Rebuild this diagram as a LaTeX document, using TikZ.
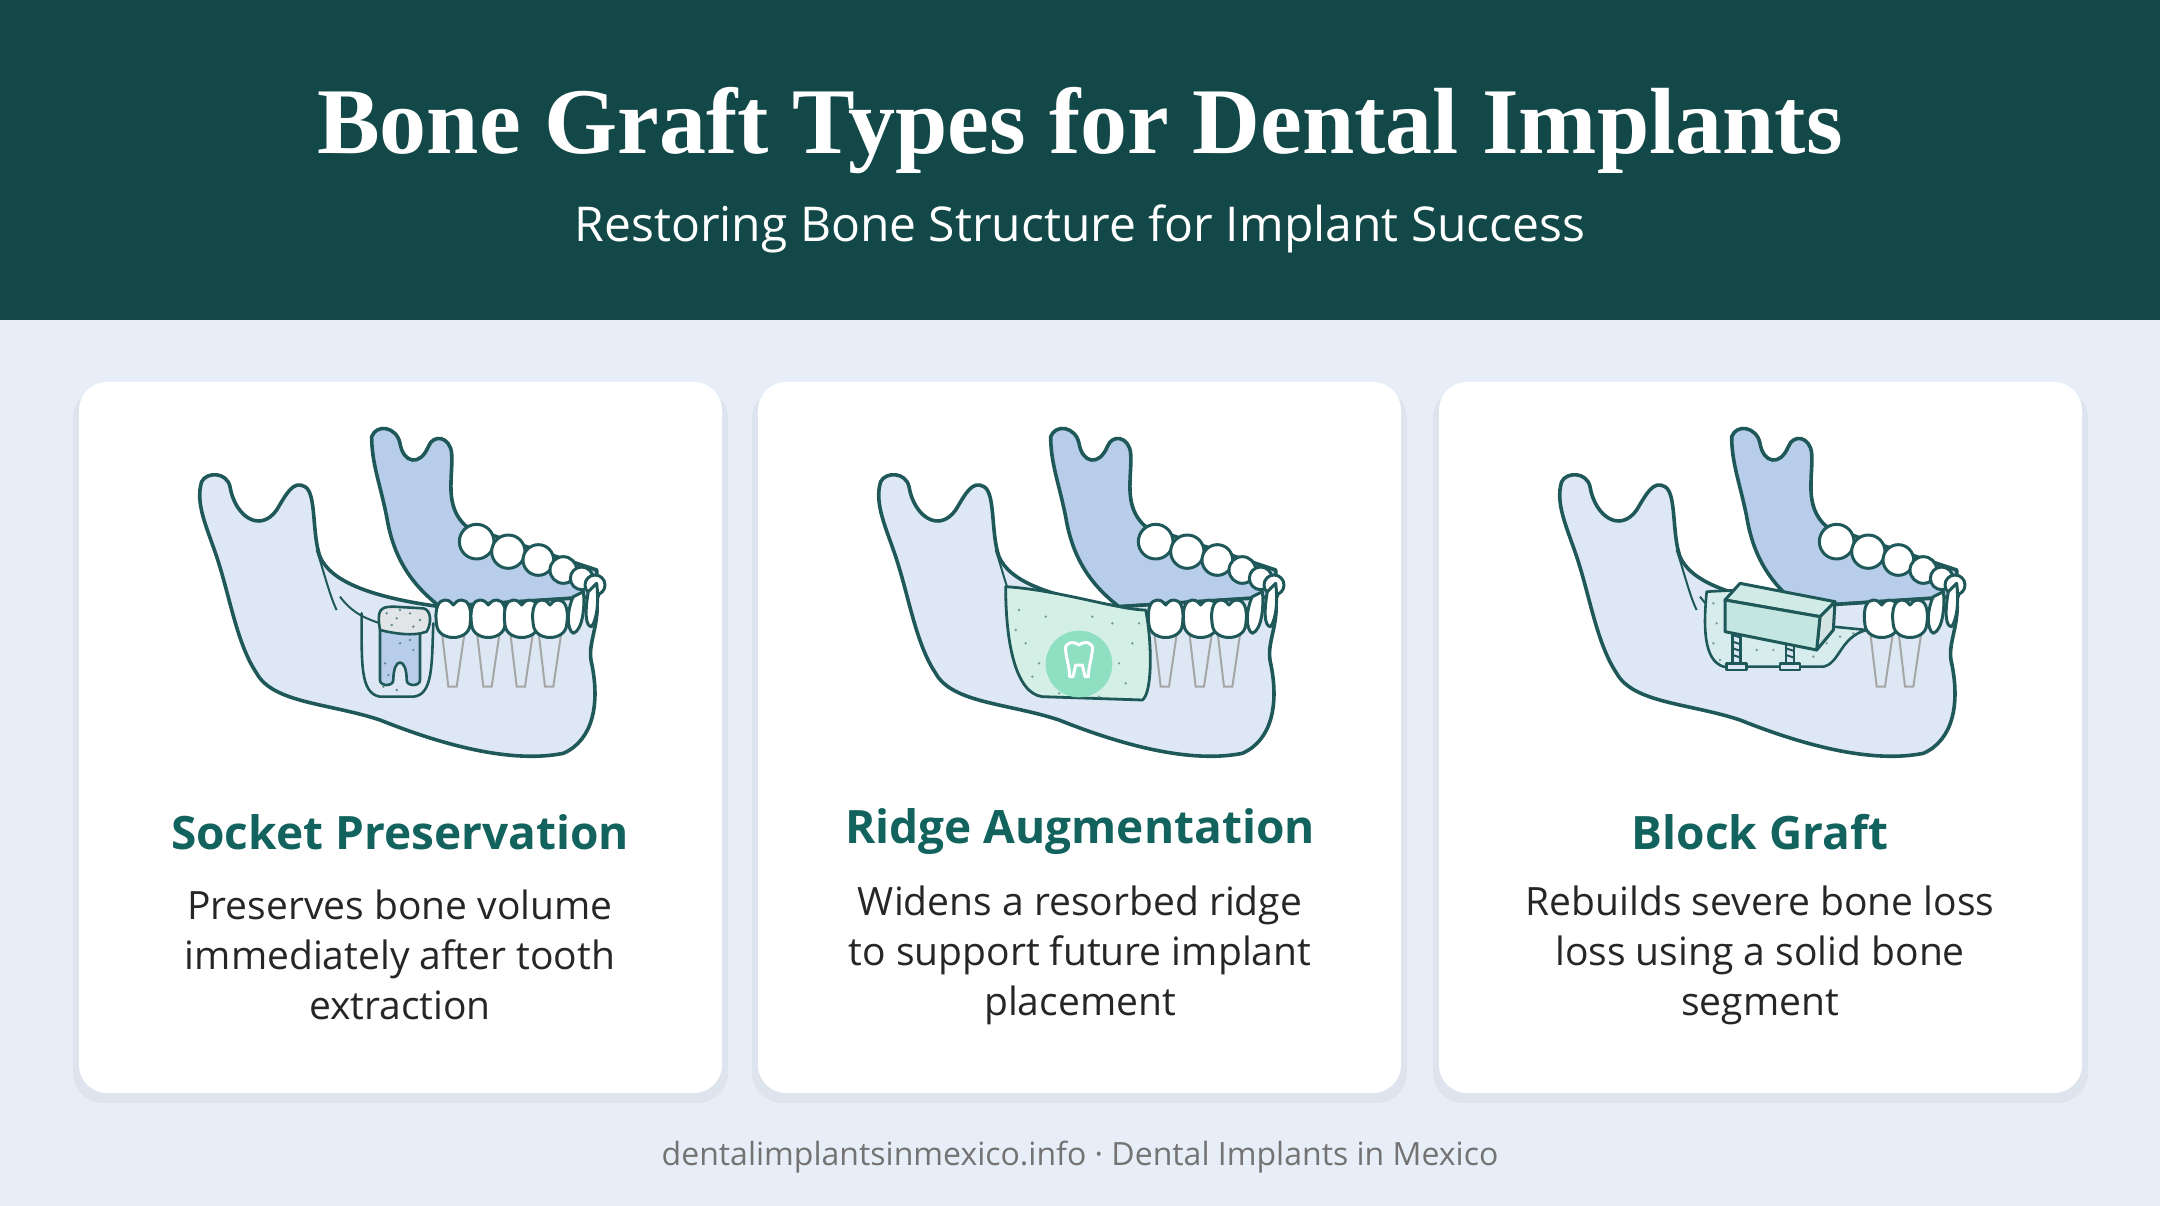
\documentclass[tikz,border=0pt]{standalone}
\usepackage{fontspec}
\setmainfont{Liberation Serif}
\setsansfont{Open Sans}
\begin{document}
\definecolor{hdr}{HTML}{134848}
\definecolor{bg}{HTML}{E8EEF7}
\definecolor{ink}{HTML}{1F5858}
\definecolor{jawf}{HTML}{DCE7F5}
\definecolor{backf}{HTML}{B7CDE9}
\definecolor{ttl}{HTML}{12625E}
\definecolor{grf}{HTML}{D3EFE6}
\definecolor{grc}{HTML}{8FE0C2}
\definecolor{blk}{HTML}{C4E6E0}
\begin{tikzpicture}[x=1pt,y=-1pt,
  card/.style={fill=white,rounded corners=28pt,draw=none},
  ol/.style={draw=ink,line width=3.6pt,line join=round,line cap=round},
  thin/.style={draw=ink,line width=2pt},
  tooth/.style={ol,fill=white,line width=3pt},
  cardtitle/.style={font=\sffamily\bfseries\fontsize{46}{52}\selectfont,text=ttl},
  body/.style={font=\sffamily\fontsize{39}{50}\selectfont,text=black!85,align=center}]
\useasboundingbox (0,0) rectangle (2160,1206);
\fill[bg] (0,0) rectangle (2160,1206);
\fill[hdr] (0,0) rectangle (2160,320);
\node[font=\bfseries\fontsize{94}{100}\selectfont,text=white] (title) at (1080,131) {Bone Graft Types for Dental Implants};
\node[font=\sffamily\fontsize{48}{52}\selectfont,text=white] (sub) at (1080,229) {Restoring Bone Structure for Implant Success};
\node[font=\sffamily\fontsize{32}{36}\selectfont,text=black!55] (foot) at (1080,1157) {dentalimplantsinmexico.info · Dental Implants in Mexico};

\newcommand{\jawback}{%
  \path[ol,fill=backf] (575,80) .. controls (590,40) and (650,50) .. (660,100) .. controls (670,160) and (720,170) .. (745,110)
     .. controls (760,70) and (810,80) .. (815,130) .. controls (820,200) and (790,290) .. (860,350)
     -- (1250,480) -- (1255,560) -- (780,590) .. controls (690,520) and (640,440) .. (620,320) .. controls (600,220) and (575,160) .. (575,80) -- cycle;
  \foreach \x/\y/\r in {890/395/52,985/425/50,1075/450/46,1150/480/40,1205/505/34,1245/525/30}
    \path[tooth] (\x,\y) circle[radius=\r];}
\newcommand{\jawfront}{%
  \path[ol,fill=jawf,fill opacity=0.93] (65,215) .. controls (80,185) and (140,185) .. (150,230) .. controls (165,320) and (240,370) .. (290,300)
     .. controls (320,250) and (340,210) .. (375,230) .. controls (410,250) and (395,370) .. (420,440)
     .. controls (450,510) and (560,560) .. (780,590) -- (1250,560) .. controls (1260,650) and (1220,700) .. (1235,760)
     .. controls (1260,880) and (1240,990) .. (1150,1030) .. controls (1000,1060) and (800,1010) .. (600,930)
     .. controls (450,880) and (280,880) .. (230,790) .. controls (170,700) and (150,560) .. (110,440)
     .. controls (80,350) and (45,280) .. (65,215) -- cycle;
  \draw[thin] (410,420) .. controls (430,480) and (450,560) .. (470,600);
  \draw[thin] (480,560) .. controls (510,600) and (540,620) .. (600,640);}
\newcommand{\frontteeth}[1]{%
  \foreach \x in {#1}{
    \draw[draw=gray!70,line width=2pt] (\x-35,660) -- (\x-15,830) -- (\x+10,830) -- (\x+35,660);
    \path[tooth] (\x-50,645) .. controls (\x-58,590) and (\x-42,570) .. (\x-25,570) .. controls (\x-10,570) and (\x-5,580) .. (\x,585)
      .. controls (\x+5,580) and (\x+10,570) .. (\x+25,570) .. controls (\x+42,570) and (\x+58,590) .. (\x+50,645)
      .. controls (\x+45,695) and (\x-45,695) .. (\x-50,645) -- cycle;}}

% cards
\foreach \cx/\nm in {79/c1,758/c2,1439/c3}{
  \fill[black,opacity=0.04,rounded corners=30pt] (\cx-6,388) rectangle (\cx+649,1103);
  \path[card] (\cx,382) rectangle (\cx+643,1093);
}

% ---- card 1
\begin{scope}[shift={(180,410)},scale=1/3]
\jawback \jawfront
\frontteeth{820,925,1025,1110}
\path[tooth] (1180,560) .. controls (1160,600) and (1160,660) .. (1180,670) .. controls (1210,660) and (1215,580) .. (1210,545) -- cycle;
\path[tooth] (1225,545) .. controls (1215,600) and (1215,650) .. (1235,650) .. controls (1255,620) and (1255,560) .. (1250,520) -- cycle;
\path[ol,line width=2.6pt] (545,610) .. controls (545,760) and (540,850) .. (600,860) -- (700,860) .. controls (760,855) and (755,760) .. (760,640);
\path[ol,fill=backf,line width=2.6pt] (600,660) -- (600,810) .. controls (600,830) and (640,830) .. (640,810) .. controls (640,740) and (680,740) .. (680,810) .. controls (680,830) and (720,830) .. (720,810) -- (720,660) -- cycle;
\path[ol,fill=jawf!60!gray!40,line width=2.6pt] (600,660) .. controls (590,600) and (600,590) .. (640,590) -- (730,595) .. controls (755,600) and (755,640) .. (740,665) .. controls (700,680) and (640,670) .. (600,660) -- cycle;
\foreach \p in {(620,610),(650,625),(690,610),(720,630),(635,645),(700,650),(660,600),(615,760),(625,795),(660,700),(700,720),(610,830),(650,840),(690,690)}
  \fill[ink!70] \p circle[radius=4];
\end{scope}
\node[cardtitle] (t1) at (400,832) {Socket Preservation};
\node[body] (b1) at (400,955) {Preserves bone volume\\immediately after tooth\\extraction};

% ---- card 2
\begin{scope}[shift={(859,410)},scale=1/3]
\jawback \jawfront
\frontteeth{920,1025,1110}
\path[tooth] (1180,560) .. controls (1160,600) and (1160,660) .. (1180,670) .. controls (1210,660) and (1215,580) .. (1210,545) -- cycle;
\path[tooth] (1225,545) .. controls (1215,600) and (1215,650) .. (1235,650) .. controls (1255,620) and (1255,560) .. (1250,520) -- cycle;
\path[ol,fill=grf,line width=2.8pt] (440,530) .. controls (600,540) and (780,600) .. (860,600) .. controls (880,700) and (880,850) .. (850,870) -- (550,860) .. controls (470,850) and (440,700) .. (440,530) -- cycle;
\fill[grc] (660,762) circle[radius=100];
\path[draw=white,line width=3pt,line join=round] (620,720) .. controls (615,700) and (640,690) .. (660,705) .. controls (680,690) and (705,700) .. (700,720) .. controls (698,750) and (690,760) .. (688,800) -- (678,800) -- (670,765) -- (650,765) -- (642,800) -- (632,800) .. controls (630,760) and (622,750) .. (620,720) -- cycle;
\foreach \p in {(480,600),(500,700),(520,800),(560,620),(600,850),(720,860),(800,820),(820,700),(760,640),(540,760),(780,760),(840,640),(470,660),(700,620)}
  \fill[ink!60] \p circle[radius=4];
\end{scope}
\node[cardtitle] (t2) at (1080,832) {Ridge Augmentation};
\node[body] (b2) at (1080,955) {Widens a resorbed ridge\\to support future implant\\placement};

% ---- card 3
\begin{scope}[shift={(1540,410)},scale=1/3]
\jawback \jawfront
\frontteeth{1025,1110}
\path[tooth] (1180,560) .. controls (1160,600) and (1160,660) .. (1180,670) .. controls (1210,660) and (1215,580) .. (1210,545) -- cycle;
\path[tooth] (1225,545) .. controls (1215,600) and (1215,650) .. (1235,650) .. controls (1255,620) and (1255,560) .. (1250,520) -- cycle;
\path[ol,fill=grf!60!jawf,line width=2.6pt] (500,545) .. controls (490,650) and (490,750) .. (550,770) -- (850,770) .. controls (900,760) and (900,680) .. (980,660) -- (880,650) -- (880,590) -- (600,540) -- cycle;
\foreach \p in {(520,580),(530,640),(520,700),(600,720),(650,720),(700,720),(760,740),(820,740),(860,700),(900,680),(940,670),(540,750)}
  \fill[ink!60] \p circle[radius=4];
\foreach \sx in {590,750}{
  \path[ol,fill=jawf,line width=2.6pt] (\sx-12,660) rectangle (\sx+12,760);
  \foreach \k in {675,695,715,735} \draw[ink,line width=2pt] (\sx-12,\k) -- (\sx+12,\k+8);
  \path[ol,fill=jawf,line width=2.6pt] (\sx-30,760) rectangle (\sx+30,780);}
\path[ol,fill=blk!80!white,line width=3pt] (555,570) -- (600,520) -- (885,575) -- (840,620) -- cycle;
\path[ol,fill=blk!70!ink!40,line width=3pt] (840,620) -- (885,575) -- (880,660) -- (830,720) -- cycle;
\path[ol,fill=blk,line width=3pt] (555,570) -- (840,620) -- (830,720) -- (555,665) -- cycle;
\end{scope}
\node[cardtitle] (t3) at (1760,832) {Block Graft};
\node[body] (b3) at (1760,955) {Rebuilds severe bone loss\\loss using a solid bone\\segment};
\end{tikzpicture}
\end{document}
